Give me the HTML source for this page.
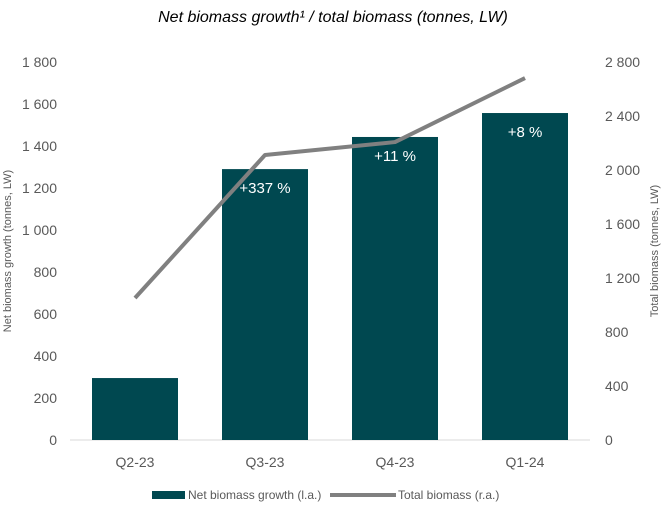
<!DOCTYPE html>
<html><head><meta charset="utf-8"><style>
body{margin:0;background:#fff;font-family:"Liberation Sans",sans-serif;}
</style></head><body>
<svg width="664" height="508" xmlns="http://www.w3.org/2000/svg" font-family="Liberation Sans, sans-serif">
<text x="333" y="22" text-anchor="middle" font-size="16" font-style="italic" fill="#000">Net biomass growth¹ / total biomass (tonnes, LW)</text>
<text transform="translate(11,251) rotate(-90)" text-anchor="middle" font-size="11" fill="#595959">Net biomass growth (tonnes, LW)</text>
<text transform="translate(658,251) rotate(-90)" text-anchor="middle" font-size="11" fill="#595959">Total biomass (tonnes, LW)</text>
<g id="g"></g>
<g>
<rect x="152" y="491" width="33" height="8" fill="#004850"/>
<text x="188" y="499" font-size="12" fill="#595959">Net biomass growth (l.a.)</text>
<line x1="330" y1="495" x2="396" y2="495" stroke="#808080" stroke-width="4"/>
<text x="398" y="499" font-size="12" fill="#595959">Total biomass (r.a.)</text>
</g>
</svg>
<script>
const categories=["Q2-23","Q3-23","Q4-23","Q1-24"];
const growth=[295,1290,1443,1557];
const total=[1052,2111,2207,2681];
const changeLabels=["","+337 %","+11 %","+8 %"];
const leftTicks=[0,200,400,600,800,1000,1200,1400,1600,1800];
const rightTicks=[0,400,800,1200,1600,2000,2400,2800];
const NS="http://www.w3.org/2000/svg";
const g=document.getElementById('g');
const x0=70,x1=590,y0=440,yTop=62;
const yL=v=>y0-(v/1800)*(y0-yTop);
const yR=v=>y0-(v/2800)*(y0-yTop);
const band=(x1-x0)/categories.length;
const xC=i=>x0+band*(i+0.5);
function mk(t,a){const e=document.createElementNS(NS,t);for(const k in a)e.setAttribute(k,a[k]);g.appendChild(e);return e;}
const fmt=v=>v>=1000?Math.floor(v/1000)+" "+String(v%1000).padStart(3,"0"):String(v);
leftTicks.forEach(v=>{const t=mk('text',{x:57,y:yL(v)+5,'text-anchor':'end','font-size':14,fill:'#595959'});t.textContent=fmt(v);

});
rightTicks.forEach(v=>{const t=mk('text',{x:605,y:yR(v)+5,'font-size':14,fill:'#595959'});t.textContent=fmt(v);

});
const base=mk('line',{x1:x0,y1:y0,x2:x1,y2:y0,stroke:'#d9d9d9','stroke-width':1});


categories.forEach((c,i)=>{
const b=mk('rect',{x:xC(i)-43,y:yL(growth[i]),width:86,height:y0-yL(growth[i]),fill:'#004850'});


const t=mk('text',{x:xC(i),y:y0+27,'text-anchor':'middle','font-size':14,fill:'#595959'});t.textContent=c;


if(changeLabels[i]){const l=mk('text',{x:xC(i),y:yL(growth[i])+24,'text-anchor':'middle','font-size':15,fill:'#fff'});l.textContent=changeLabels[i];

}
});
const pl=mk('polyline',{points:total.map((v,i)=>xC(i)+","+yR(v)).join(" "),fill:'none',stroke:'#808080','stroke-width':4,'stroke-linejoin':'round'});


</script>
</body></html>
